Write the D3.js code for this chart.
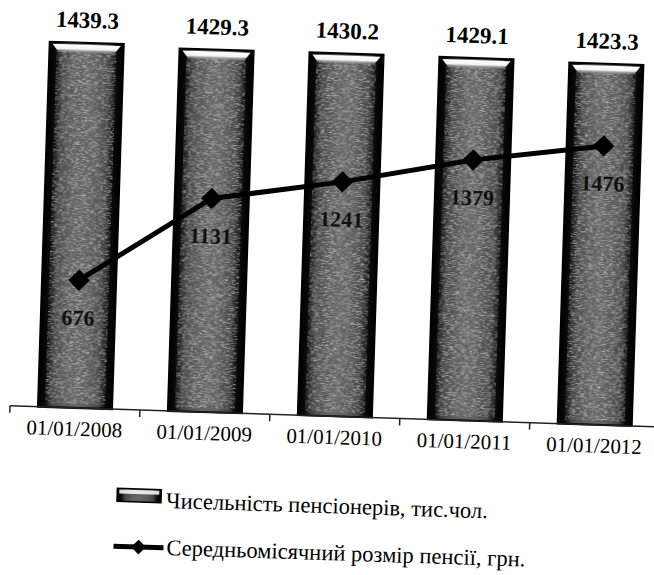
<!DOCTYPE html>
<html>
<head>
<meta charset="utf-8">
<script src="https://cdn.jsdelivr.net/npm/d3@7"></script>
<style>
  body { margin: 0; background: #fff; }
  text { font-family: "Liberation Serif", "Times New Roman", serif; }
</style>
</head>
<body>
<div id="chart"></div>
<script>
var categories = ["01/01/2008", "01/01/2009", "01/01/2010", "01/01/2011", "01/01/2012"];
var pensioners = [1439.3, 1429.3, 1430.2, 1429.1, 1423.3];
var avgPension = [676, 1131, 1241, 1379, 1476];
var legendLabels = ["Чисельність пенсіонерів, тис.чол.", "Середньомісячний розмір пенсії, грн."];

var W = 654, H = 575;
var svg = d3.select("#chart").append("svg")
    .attr("width", W).attr("height", H);

var defs = svg.append("defs");

// bar body: black sides, dark grey middle
var g1 = defs.append("linearGradient").attr("id", "barFill")
    .attr("x1", "0").attr("x2", "1").attr("y1", "0").attr("y2", "0");
[[0, "#000"], [0.09, "#0a0a0a"], [0.19, "#484848"], [0.35, "#5e5e5e"], [0.5, "#666"],
 [0.65, "#5e5e5e"], [0.81, "#484848"], [0.91, "#0a0a0a"], [1, "#000"]].forEach(function(s) {
  g1.append("stop").attr("offset", s[0]).attr("stop-color", s[1]);
});
// bevel highlight on top
var g2 = defs.append("linearGradient").attr("id", "bevel")
    .attr("x1", "0").attr("x2", "0").attr("y1", "0").attr("y2", "1");
g2.append("stop").attr("offset", 0).attr("stop-color", "#fff");
g2.append("stop").attr("offset", 0.55).attr("stop-color", "#f4f4f4");
g2.append("stop").attr("offset", 1).attr("stop-color", "#999").attr("stop-opacity", 0.3);

// horizontal grain like the scan
var f = defs.append("filter").attr("id", "grain").attr("x", 0).attr("y", 0)
    .attr("width", 1).attr("height", 1);
f.append("feTurbulence").attr("type", "fractalNoise")
    .attr("baseFrequency", "0.25 1.4").attr("numOctaves", 2).attr("seed", 5).attr("result", "n");
f.append("feColorMatrix").attr("in", "n").attr("type", "matrix")
    .attr("values", "0 0 0 0 1  0 0 0 0 1  0 0 0 0 1  2.2 0 0 0 -0.95").attr("result", "w");
f.append("feComposite").attr("in", "w").attr("in2", "SourceGraphic").attr("operator", "in");

// the scan is turned a little clockwise
var g = svg.append("g").attr("transform", "rotate(1.85, 327, 287)");

var x = d3.scaleBand().domain(categories).range([14, 664])
    .paddingInner(0.43).paddingOuter(0.215);
var y = d3.scaleLinear().domain([0, 1600]).range([416, 10]);
var y2 = d3.scaleLinear().domain([0, 2000]).range([416, 38]);

var bars = g.selectAll(".bar").data(pensioners).enter().append("g").attr("class", "bar");
bars.append("rect")
    .attr("x", function(d, i) { return x(categories[i]); })
    .attr("y", function(d) { return y(d); })
    .attr("width", x.bandwidth())
    .attr("height", function(d) { return y(0) - y(d); })
    .attr("fill", "url(#barFill)")
    .attr("stroke", "#000").attr("stroke-width", 2);
bars.append("rect")
    .attr("x", function(d, i) { return x(categories[i]) + 7; })
    .attr("y", function(d) { return y(d) + 9; })
    .attr("width", x.bandwidth() - 14)
    .attr("height", function(d) { return y(0) - y(d) - 13; })
    .attr("fill", "#fff").attr("filter", "url(#grain)").attr("opacity", 0.6);
bars.append("path")
    .attr("d", function(d, i) {
      var x0 = x(categories[i]), x1 = x0 + x.bandwidth(), t = y(d);
      return "M" + (x0 + 3) + "," + (t + 2) + "L" + (x1 - 3) + "," + (t + 2) +
             "L" + (x1 - 9) + "," + (t + 10) + "L" + (x0 + 9) + "," + (t + 10) + "Z";
    })
    .attr("fill", "url(#bevel)");

g.selectAll(".barLabel").data(pensioners).enter().append("text")
    .attr("x", function(d, i) { return x(categories[i]) + x.bandwidth() / 2; })
    .attr("y", function(d) { return y(d) - 15; })
    .attr("text-anchor", "middle")
    .attr("font-size", 23).attr("font-weight", "bold")
    .text(function(d) { return d3.format(".1f")(d); });

// axis: labels from d3 axis, ticks at category boundaries
var axis = g.append("g").attr("transform", "translate(0," + y(0) + ")")
    .call(d3.axisBottom(x).tickSize(0).tickPadding(13));
axis.select(".domain").remove();
axis.selectAll("text").attr("font-size", 21)
    .attr("font-family", "Liberation Serif, serif").attr("fill", "#000");
g.append("line")
    .attr("x1", x.range()[0]).attr("x2", x.range()[1])
    .attr("y1", y(0)).attr("y2", y(0))
    .attr("stroke", "#222").attr("stroke-width", 1.5);
g.selectAll(".tick2").data(d3.range(categories.length + 1)).enter().append("line")
    .attr("x1", function(i) { return x.range()[0] + i * x.step(); })
    .attr("x2", function(i) { return x.range()[0] + i * x.step(); })
    .attr("y1", y(0)).attr("y2", y(0) + 7)
    .attr("stroke", "#222").attr("stroke-width", 1.5);

// line series
var cx = function(d, i) { return x(categories[i]) + x.bandwidth() / 2; };
var line = d3.line().x(cx).y(function(d) { return y2(d); });
g.append("path").datum(avgPension)
    .attr("d", line).attr("fill", "none")
    .attr("stroke", "#000").attr("stroke-width", 5);
var diamond = d3.symbol(d3.symbolSquare, 230);
g.selectAll(".pt").data(avgPension).enter().append("path")
    .attr("d", diamond)
    .attr("transform", function(d, i) { return "translate(" + cx(d, i) + "," + y2(d) + ") rotate(45)"; })
    .attr("fill", "#000");
g.selectAll(".ptLabel").data(avgPension).enter().append("text")
    .attr("x", cx)
    .attr("y", function(d) { return y2(d) + 45; })
    .attr("text-anchor", "middle")
    .attr("font-size", 22).attr("font-weight", "bold").attr("fill", "#111")
    .text(function(d) { return d; });

// legend
var lg = g.append("g");
lg.append("rect").attr("x", 124).attr("y", 495).attr("width", 44).attr("height", 13)
    .attr("fill", "url(#barFill)").attr("stroke", "#000").attr("stroke-width", 1.5);
lg.append("rect").attr("x", 126).attr("y", 496).attr("width", 40).attr("height", 4)
    .attr("fill", "#fff").attr("opacity", 0.85);
lg.append("text").attr("x", 173).attr("y", 513).attr("font-size", 22.5).text(legendLabels[0]);
lg.append("line").attr("x1", 122).attr("x2", 172).attr("y1", 553).attr("y2", 553)
    .attr("stroke", "#000").attr("stroke-width", 5);
lg.append("path").attr("d", d3.symbol(d3.symbolSquare, 110))
    .attr("transform", "translate(147,553) rotate(45)").attr("fill", "#000");
lg.append("text").attr("x", 175).attr("y", 560).attr("font-size", 22.5).text(legendLabels[1]);
</script>
</body>
</html>
